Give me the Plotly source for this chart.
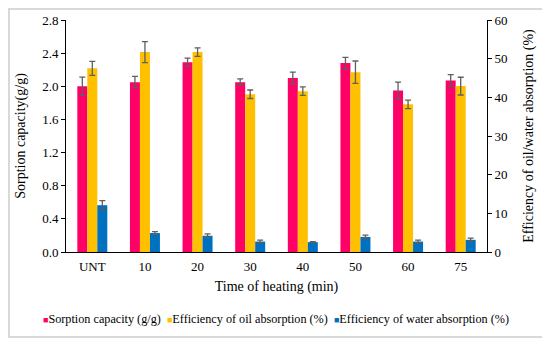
import plotly.graph_objects as go

categories = ["UNT", "10", "20", "30", "40", "50", "60", "75"]
sorption = [2.00, 2.05, 2.29, 2.05, 2.10, 2.28, 1.95, 2.07]
sorption_err = [0.11, 0.07, 0.05, 0.04, 0.07, 0.07, 0.10, 0.07]
oil = [47.5, 51.7, 51.7, 40.8, 41.6, 46.5, 38.2, 42.9]
oil_err = [1.8, 2.7, 1.1, 1.1, 1.1, 2.9, 1.1, 2.3]
water = [12.1, 4.9, 4.2, 2.7, 2.55, 3.9, 2.7, 3.15]
water_err = [1.2, 0.35, 0.5, 0.35, 0.15, 0.45, 0.35, 0.45]

series_names = ["Sorption capacity (g/g)", "Efficiency of oil absorption (%)",
                "Efficiency of water absorption (%)"]
colors = ["#FF0066", "#FFC000", "#0070C0"]

left_ticks = [0.0, 0.4, 0.8, 1.2, 1.6, 2.0, 2.4, 2.8]
right_ticks = [0, 10, 20, 30, 40, 50, 60]

FONT = "'Liberation Serif', 'Times New Roman', serif"
ERR = dict(type="data", color="#5f5f5f", thickness=1.3, width=3)

# page has an 8px body margin, so the figure is drawn 8px in from the window edge
OFF = 8
W, H = 550 - OFF, 344 - OFF
ML, MT = 66 - OFF, 20 - OFF
MR = W - (487 - OFF)
MB = H - (252 - OFF)
pw = W - ML - MR
ph = H - MT - MB


def px_x(xw):
    return (xw - OFF - ML) / pw


def px_y(yw):
    return (H - MB - (yw - OFF)) / ph


fig = go.Figure()
fig.add_trace(go.Bar(x=categories, y=sorption, name=series_names[0],
                     marker=dict(color=colors[0], line=dict(width=0)),
                     error_y=dict(array=sorption_err, **ERR),
                     offsetgroup="a", yaxis="y"))
fig.add_trace(go.Bar(x=categories, y=oil, name=series_names[1],
                     marker=dict(color=colors[1], line=dict(width=0)),
                     error_y=dict(array=oil_err, **ERR),
                     offsetgroup="b", yaxis="y2"))
fig.add_trace(go.Bar(x=categories, y=water, name=series_names[2],
                     marker=dict(color=colors[2], line=dict(width=0)),
                     error_y=dict(array=water_err, **ERR),
                     offsetgroup="c", yaxis="y2"))

fig.add_shape(type="rect", xref="paper", yref="paper",
              x0=px_x(OFF + 1), x1=px_x(543),
              y0=px_y(337), y1=px_y(OFF + 1),
              line=dict(color="#d9d9d9", width=2), layer="below")

legend_parts = [
    f"<span style='color:{c};font-size:9px'>■</span>{n}" for c, n in zip(colors, series_names)
]
fig.add_annotation(text="&nbsp;&nbsp;".join(legend_parts),
                   xref="paper", yref="paper", x=px_x(276), y=px_y(319),
                   xanchor="center", yanchor="middle", showarrow=False,
                   font=dict(size=12.2, family=FONT, color="black"))

fig.update_layout(
    width=W, height=H,
    margin=dict(l=ML, r=MR, t=MT, b=MB, autoexpand=False),
    paper_bgcolor="white", plot_bgcolor="white",
    barmode="group", bargap=0.43, bargroupgap=0,
    font=dict(family=FONT, size=13, color="black"),
    showlegend=False,
    xaxis=dict(type="category", showline=True, linecolor="black", linewidth=1,
               ticks="", showgrid=False, automargin=False, ticklabelstandoff=2,
               title=dict(text="Time of heating (min)", font=dict(size=14), standoff=8),
               tickfont=dict(size=13)),
    yaxis=dict(range=[0, 2.8], tickvals=left_ticks, ticktext=[f"{v:.1f}" for v in left_ticks],
               showline=True, linecolor="black", linewidth=1, ticks="outside", ticklen=4,
               tickcolor="black", showgrid=False, zeroline=False, automargin=False,
               title=dict(text="Sorption capacity(g/g)", font=dict(size=14), standoff=13)),
    yaxis2=dict(range=[0, 60], tickvals=right_ticks, overlaying="y", side="right",
                showline=True, linecolor="black", linewidth=1, ticks="outside", ticklen=4,
                tickcolor="black", showgrid=False, zeroline=False, automargin=False,
                title=dict(text="Efficiency of oil/water absorption (%)", font=dict(size=14), standoff=16)),
)

fig.write_html("out.html")
